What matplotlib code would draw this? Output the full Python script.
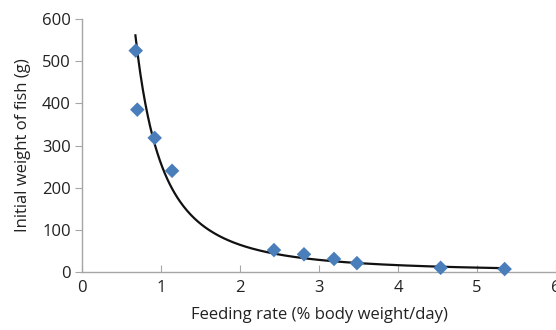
import numpy as np
import matplotlib
matplotlib.use("Agg")
import matplotlib.pyplot as plt

feeding_rate = [0.68, 0.70, 0.92, 1.14, 2.43, 2.81, 3.19, 3.48, 4.54, 5.35]
initial_weight = [525, 385, 318, 240, 52, 42, 31, 21, 10, 7]
x_ticks = [0, 1, 2, 3, 4, 5, 6]
y_ticks = [0, 100, 200, 300, 400, 500, 600]

plt.rcParams['font.family'] = ['Open Sans', 'DejaVu Sans']

fig = plt.figure(figsize=(5.56, 3.30), dpi=100)
ax = fig.add_axes([82/556, 1-272/330, 1-82/556, (272-19)/330])

# power trend line fitted to the data (log-log regression)
b, loga = np.polyfit(np.log(feeding_rate), np.log(initial_weight), 1)
xs = np.linspace(0.676, 5.33, 300)
ax.plot(xs, np.exp(loga) * xs**b, color='#111111', lw=1.6, zorder=2)

ax.scatter(feeding_rate, initial_weight, marker='D', s=55, color='#4a7ebb',
           edgecolors='none', zorder=3, clip_on=False)

ax.set_xlim(0, 6)
ax.set_ylim(0, 600)
ax.set_xticks(x_ticks)
ax.set_yticks(y_ticks)
for s in ['top', 'right']:
    ax.spines[s].set_visible(False)
for s in ['left', 'bottom']:
    ax.spines[s].set_color('#a6a6a6')
    ax.spines[s].set_linewidth(1.0)
ax.tick_params(axis='x', direction='in', length=5, color='#a6a6a6', labelsize=12, pad=6, labelcolor='#222222')
ax.tick_params(axis='y', direction='out', length=5, color='#a6a6a6', labelsize=12, pad=3, labelcolor='#222222')
ax.set_xlabel('Feeding rate (% body weight/day)', fontsize=12, color='#222222', labelpad=8)
ax.set_ylabel('Initial weight of fish (g)', fontsize=12, color='#222222', labelpad=8)

fig.savefig('out.png', dpi=100)
